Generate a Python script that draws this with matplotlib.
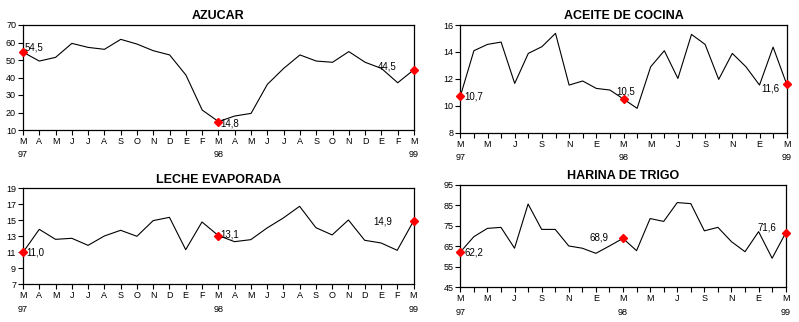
import matplotlib
matplotlib.use("Agg")
import matplotlib.pyplot as plt
import numpy as np

plt.rcParams['font.family'] = ['Liberation Sans', 'DejaVu Sans']

# Monthly series, March 1997 to March 1999
months = ["M", "A", "M", "J", "J", "A", "S", "O", "N", "D", "E", "F",
          "M", "A", "M", "J", "J", "A", "S", "O", "N", "D", "E", "F", "M"]
years = {0: "97", 12: "98", 24: "99"}

azucar = [54.5, 49.4, 51.5, 59.5, 57.2, 56.1, 61.8, 59.1, 55.3, 52.9, 41.4, 21.4,
          14.8, 18.0, 19.5, 36.1, 45.2, 52.9, 49.4, 48.7, 54.8, 48.7, 45.2, 37.0, 44.5]
aceite = [10.7, 14.09, 14.56, 14.73, 11.66, 13.89, 14.39, 15.38, 11.54, 11.84, 11.29, 11.17,
          10.5, 9.81, 12.90, 14.09, 12.03, 15.30, 14.56, 11.96, 13.89, 12.90, 11.54, 14.36, 11.6]
leche = [11.0, 13.87, 12.62, 12.75, 11.87, 13.04, 13.75, 13.0, 14.96, 15.37, 11.33, 14.79,
         13.1, 12.33, 12.58, 14.04, 15.29, 16.75, 14.08, 13.17, 15.04, 12.5, 12.17, 11.25, 14.9]
harina = [62.2, 69.75, 73.8, 74.3, 64.1, 85.7, 73.3, 73.3, 65.2, 64.1, 61.6, 65.2,
          68.9, 62.9, 78.6, 77.2, 86.4, 85.9, 72.6, 74.3, 67.3, 62.4, 72.2, 59.2, 71.6]

# highlighted points: first month, March 1998 and last month
marked = [0, 12, 24]

W, H = 799, 322
fig = plt.figure(figsize=(W / 100, H / 100), dpi=100)


def px_axes(left, right, top, bottom):
    return fig.add_axes([left / W, 1 - bottom / H, (right - left) / W, (bottom - top) / H])


def month_labels(every):
    labs = []
    for i, m in enumerate(months):
        if i % every != 0:
            labs.append("")
            continue
        labs.append(m + ("\n" + years[i] if i in years else ""))
    return labs


def panel(box, title, values, yticks, every, label_specs):
    ax = px_axes(*box)
    x = np.arange(len(values))
    ax.plot(x, values, color="black", lw=0.8, clip_on=False, zorder=3)
    ax.plot([x[i] for i in marked], [values[i] for i in marked], ls="none",
            marker="D", ms=4.2, color="#ff0000", mec="#ff0000", clip_on=False, zorder=4)
    ax.set_xlim(0, len(values) - 1)
    ax.set_ylim(yticks[0], yticks[-1])
    ax.set_yticks(yticks)
    ax.set_yticklabels([str(t) for t in yticks])
    ax.set_xticks(x)
    ax.set_xticklabels(month_labels(every), linespacing=1.65, va="top")
    ax.tick_params(axis="both", direction="out", length=3.5, width=0.8,
                   labelsize=6.5, pad=1.5, colors="black")
    for s in ax.spines.values():
        s.set_linewidth(0.9)
        s.set_color("black")
    ax.set_title(title, fontsize=9, fontweight="bold", pad=4)
    for idx, (dx, dy, ha) in label_specs.items():
        ax.annotate(f"{values[idx]:.1f}".replace(".", ","), (x[idx], values[idx]),
                    xytext=(dx, dy), textcoords="offset pixels", ha=ha, va="center",
                    fontsize=7, zorder=5, annotation_clip=False)
    return ax


panel((23, 414, 25, 130), "AZUCAR", azucar, [10, 20, 30, 40, 50, 60, 70], 1,
      {0: (2, 4.5, "left"), 12: (2, -1.5, "left"), 24: (-17, 3, "right")})
panel((460.3, 786.7, 25, 132.7), "ACEITE DE COCINA", aceite, [8, 10, 12, 14, 16], 2,
      {0: (4, 0, "left"), 12: (2, 7.5, "center"), 24: (-7, -4, "right")})
panel((23, 413.5, 188.3, 284.3), "LECHE EVAPORADA", leche, [7, 9, 11, 13, 15, 17, 19], 1,
      {0: (3, 0, "left"), 12: (2, 1, "left"), 24: (-21, 0, "right")})
panel((460.3, 785.7, 185, 287.3), "HARINA DE TRIGO", harina, [45, 55, 65, 75, 85, 95], 2,
      {0: (4, 0, "left"), 12: (-14, 0.5, "right"), 24: (-9, 5, "right")})

fig.savefig("out.png", dpi=100, facecolor="white")
